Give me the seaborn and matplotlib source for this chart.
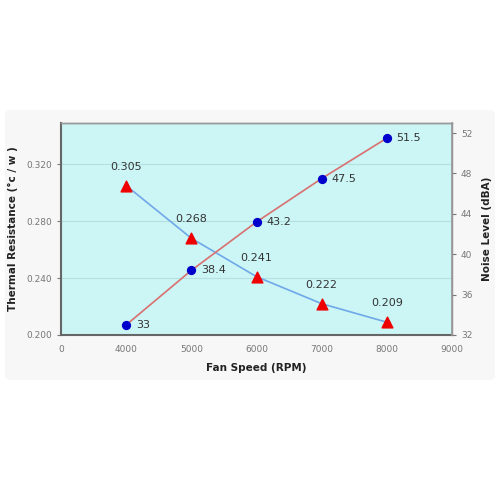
import matplotlib
matplotlib.use("Agg")
import matplotlib.pyplot as plt
import seaborn as sns
import pandas as pd
from matplotlib.patches import FancyBboxPatch

sns.set_theme(style="white")
plt.rcParams['font.family'] = ['DejaVu Sans']

x_tick_labels = ["0", "4000", "5000", "6000", "7000", "8000", "9000"]
fan_speed = ["4000", "5000", "6000", "7000", "8000"]
thermal_resistance = [0.305, 0.268, 0.241, 0.222, 0.209]
noise_level = [33, 38.4, 43.2, 47.5, 51.5]
thermal_labels = ["0.305", "0.268", "0.241", "0.222", "0.209"]
noise_labels = ["33", "38.4", "43.2", "47.5", "51.5"]

# the reference uses an evenly spaced (category-like) x axis
pos = [x_tick_labels.index(r) for r in fan_speed]
df = pd.DataFrame({"pos": pos, "tr": thermal_resistance, "noise": noise_level})

fig = plt.figure(figsize=(5, 5), dpi=100)
fig.patch.set_facecolor("white")
bg = FancyBboxPatch((0.01, 0.24), 0.98, 0.54, boxstyle="round,pad=0,rounding_size=0.01",
                    transform=fig.transFigure, facecolor="#f7f7f7", edgecolor="none", zorder=-10)
fig.add_artist(bg)

ax = fig.add_axes([0.122, 0.33, 0.782, 0.424])
ax.set_facecolor("#ccf5f5")
ax2 = ax.twinx()

sns.lineplot(data=df, x="pos", y="tr", ax=ax, color="#6fa8e8", linewidth=1.2, zorder=2)
ax.scatter(df["pos"], df["tr"], marker="^", s=60, color="#ee0000", zorder=3, clip_on=False)
sns.lineplot(data=df, x="pos", y="noise", ax=ax2, color="#d97070", linewidth=1.2, zorder=2)
ax2.scatter(df["pos"], df["noise"], marker="o", s=32, color="#0000cc", zorder=3, clip_on=False)

for x, y, t in zip(pos, thermal_resistance, thermal_labels):
    ax.annotate(t, (x, y), xytext=(0, 10), textcoords="offset points", ha="center", va="bottom",
                fontsize=8, color="#333333")
for x, y, t in zip(pos, noise_level, noise_labels):
    ax2.annotate(t, (x, y), xytext=(7, 0), textcoords="offset points", ha="left", va="center",
                 fontsize=8, color="#333333")

ax.set_xlim(0, len(x_tick_labels) - 1)
ax.set_xticks(range(len(x_tick_labels)))
ax.set_xticklabels(x_tick_labels)
ax.set_ylim(0.2, 0.349)
ax.set_yticks([0.200, 0.240, 0.280, 0.320])
ax.set_yticklabels(["0.200", "0.240", "0.280", "0.320"])
ax2.set_ylim(32, 53)
ax2.set_yticks([32, 36, 40, 44, 48, 52])

ax.yaxis.grid(True, color="#b5e0e0", linewidth=0.8)
ax.set_axisbelow(True)

for a in (ax, ax2):
    a.tick_params(axis="both", labelsize=6.5, colors="#777777", length=3, width=0.8, direction="out")
    for s in a.spines.values():
        s.set_color("#888888")
        s.set_linewidth(1.0)
ax.tick_params(axis="x", pad=4)
ax.spines["left"].set_color("#666666")
ax.spines["left"].set_linewidth(1.5)
ax.spines["bottom"].set_color("#666666")
ax.spines["bottom"].set_linewidth(1.5)
ax2.spines["left"].set_visible(False)
ax2.spines["bottom"].set_visible(False)
ax2.spines["right"].set_color("#999999")
ax2.spines["right"].set_linewidth(1.2)
ax2.spines["top"].set_color("#999999")

ax.set_xlabel("Fan Speed (RPM)", fontsize=7.5, fontweight="bold", color="#222222", labelpad=7)
ax.set_ylabel("Thermal Resistance (°c / w )", fontsize=7.5, fontweight="bold", color="#222222", labelpad=6)
ax2.set_ylabel("Noise Level (dBA)", fontsize=7.5, fontweight="bold", color="#222222", labelpad=7)

fig.savefig("out.png", dpi=100)
